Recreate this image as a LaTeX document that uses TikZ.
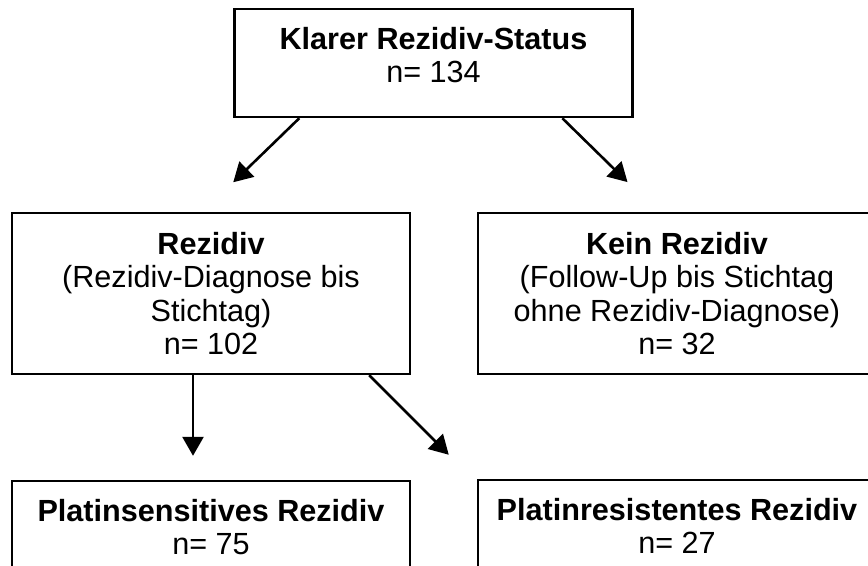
\documentclass[tikz,border=0pt]{standalone}
\usepackage{fontspec}
\setmainfont{Liberation Sans}
\usetikzlibrary{arrows.meta}

\begin{document}
\begin{tikzpicture}[x=0.5pt,y=-0.5pt,
    box_node/.style={draw,line width=1.2pt,align=center,inner sep=0pt,
      font=\fontsize{15.3}{16.8}\selectfont},
    wide_box/.style={box_node,minimum width=199pt,minimum height=80.5pt},
    low_box/.style={box_node,minimum width=199pt,minimum height=54pt,text depth=8pt}]

    \useasboundingbox (0,0) rectangle (868,566);
    \clip (0,0) rectangle (868,566);

    \node[low_box] (1) at (433.5,63) {\textbf{Klarer Rezidiv-Status}\\n= 134};
    \node[wide_box] (2) at (211,293.5) {\textbf{Rezidiv}\\(Rezidiv-Diagnose bis\\Stichtag)\\n= 102};
    \node[wide_box] (3) at (677,293.5) {\textbf{Kein Rezidiv}\\(Follow-Up bis Stichtag\\ohne Rezidiv-Diagnose)\\n= 32};
    \node[low_box] (4) at (211,535) {\textbf{Platinsensitives Rezidiv}\\n= 75};
    \node[low_box] (5) at (677,534) {\textbf{Platinresistentes Rezidiv}\\n= 27};

  \path[line width=1.3pt,-{Triangle[length=9.5pt,width=10.5pt]}]
    ([xshift=33pt]1.south west) edge[shorten >=21.2pt] ([xshift=96pt]2.north west)
    ([xshift=164.5pt]1.south west) edge[shorten >=21.2pt] ([xshift=90.5pt]3.north west)
    ([xshift=-9pt]2.south) edge[shorten >=12pt] ([xshift=-9pt]4.north)
    ([xshift=-21pt]2.south east) edge[shorten >=17pt] ([xshift=-2pt]5.north west);

\end{tikzpicture}
\end{document}
